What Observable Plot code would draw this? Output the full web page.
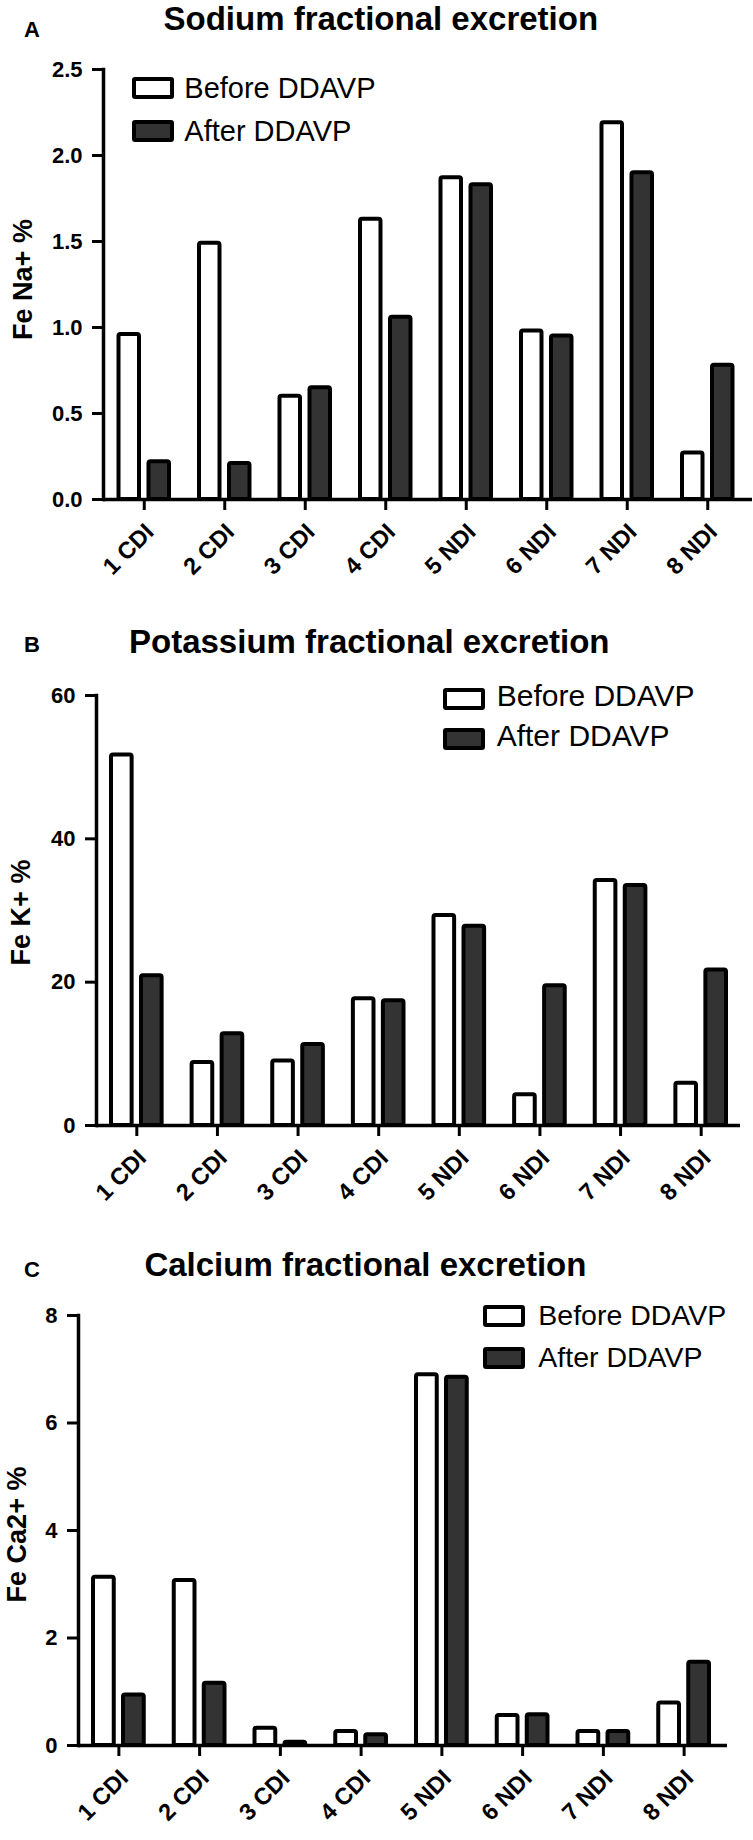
<!DOCTYPE html>
<html>
<head>
<meta charset="utf-8">
<script src="https://cdn.jsdelivr.net/npm/d3@7"></script>
<script src="https://cdn.jsdelivr.net/npm/@observablehq/plot@0.6"></script>
<style>
  body { margin: 0; background: #fff; font-family: "Liberation Sans", Arial, Helvetica, sans-serif; }
  #page { position: relative; width: 753px; height: 1840px; overflow: hidden; background: #fff; }
  .abs { position: absolute; white-space: nowrap; line-height: 1; color: #000; }
  .box { position: absolute; box-sizing: border-box; border: 4px solid #000; border-radius: 3px; }
  svg { position: absolute; left: 0; }
</style>
</head>
<body>
<div id="page"></div>
<script>
// ---------- data ----------
const categories = ["1 CDI", "2 CDI", "3 CDI", "4 CDI", "5 NDI", "6 NDI", "7 NDI", "8 NDI"];
const seriesNames = ["Before DDAVP", "After DDAVP"];

const naBefore = [0.96, 1.49, 0.60, 1.63, 1.87, 0.98, 2.19, 0.27];
const naAfter  = [0.22, 0.21, 0.65, 1.06, 1.83, 0.95, 1.90, 0.78];
const naTicks  = [0, 0.5, 1.0, 1.5, 2.0, 2.5];

const kBefore = [51.7, 8.8, 9.0, 17.7, 29.3, 4.3, 34.2, 5.9];
const kAfter  = [20.9, 12.8, 11.3, 17.4, 27.8, 19.5, 33.5, 21.7];
const kTicks  = [0, 20, 40, 60];

const caBefore = [3.13, 3.07, 0.32, 0.26, 6.90, 0.56, 0.26, 0.79];
const caAfter  = [0.94, 1.16, 0.06, 0.20, 6.85, 0.57, 0.26, 1.55];
const caTicks  = [0, 2, 4, 6, 8];

const titles = ["Sodium fractional excretion", "Potassium fractional excretion", "Calcium fractional excretion"];
const letters = ["A", "B", "C"];
const yLabels = ["Fe Na+ %", "Fe K+ %", "Fe Ca2+ %"];

// ---------- layout ----------
const FONT = "'Liberation Sans', Arial, Helvetica, sans-serif";
const fills = ["#ffffff", "#333333"];
const page = document.getElementById("page");

const panels = [
  {before: naBefore, after: naAfter, ticks: naTicks, fmt: ".1f", top: 0, height: 600,
   ml: 103, mr: 1, xRange: [103.5, 747.5], ylabelDx: -80, ylabelDy: -5,
   titleX: 163.5, titleBase: 30, letterBase: 37.3,
   legendX: 131.7, legendY: 77.3, legendTextX: 184.3, legendBase: 99, legendGap: 42.4, legendFs: 29},
  {before: kBefore, after: kAfter, ticks: kTicks, fmt: "d", top: 625.7, height: 600,
   ml: 96, mr: 13, xRange: [96, 741], ylabelDx: -75.5, ylabelDy: 2,
   titleX: 129, titleBase: 27, letterBase: 27.3,
   legendX: 443.3, legendY: 62, legendTextX: 496.7, legendBase: 81, legendGap: 40, legendFs: 30},
  {before: caBefore, after: caAfter, ticks: caTicks, fmt: "d", top: 1245.7, height: 594,
   ml: 78, mr: 26, xRange: [78, 724], ylabelDx: -61, ylabelDy: 4,
   titleX: 144.4, titleBase: 29.8, letterBase: 31.8,
   legendX: 483.3, legendY: 59.3, legendTextX: 538.3, legendBase: 79.3, legendGap: 42, legendFs: 28.5}
];

function addText(txt, left, baseline, fs, weight) {
  const d = document.createElement("div");
  d.className = "abs";
  d.textContent = txt;
  d.style.left = left + "px";
  d.style.top = (baseline - 0.8465 * fs) + "px";
  d.style.fontSize = fs + "px";
  d.style.fontWeight = weight;
  page.appendChild(d);
}

panels.forEach((p, k) => {
  const rows = categories.map((c, i) => ({cat: c, before: p.before[i], after: p.after[i]}));
  const chart = Plot.plot({
    width: 753,
    height: p.height,
    marginTop: 69,
    marginBottom: p.height - 69 - 430,
    marginLeft: p.ml,
    marginRight: p.mr,
    style: {fontFamily: FONT, fontSize: "22px", fontWeight: "bold", color: "#000", background: "transparent", overflow: "visible"},
    x: {domain: categories, range: p.xRange, padding: 0, round: false},
    y: {domain: [0, p.ticks[p.ticks.length - 1]]},
    marks: [
      Plot.barY(rows, {x: "cat", y: "before", fill: fills[0], stroke: "#000", strokeWidth: 4, insetLeft: 15, insetRight: 45, rx: 2}),
      Plot.barY(rows, {x: "cat", y: "after", fill: fills[1], stroke: "#000", strokeWidth: 4, insetLeft: 45, insetRight: 15, rx: 2}),
      Plot.ruleY([0], {stroke: "#000", strokeWidth: 3.5}),
      Plot.frame({anchor: "left", stroke: "#000", strokeWidth: 3.5}),
      Plot.axisY({ticks: p.ticks, tickFormat: d3.format(p.fmt), tickSize: 11, tickPadding: 10, strokeWidth: 3,
                  fontSize: 22, fontWeight: "bold", label: null}),
      // tick lines only
      Plot.axisX({tickSize: 11, strokeWidth: 3, fill: "none", label: null}),
      // rotated tick labels only
      Plot.axisX({tickSize: 0, tickPadding: 28.6, tickRotate: -45, dx: 5.5,
                  fontSize: 23.5, fontWeight: "bold", label: null}),
      Plot.text([yLabels[k]], {text: d => d, frameAnchor: "left", textAnchor: "middle", rotate: -90,
                  dx: p.ylabelDx, dy: p.ylabelDy, fontSize: 27, fontWeight: "bold", fill: "#000"})
    ]
  });
  chart.style.top = p.top + "px";
  page.appendChild(chart);

  addText(letters[k], 24, p.top + p.letterBase, 22, "bold");
  addText(titles[k], p.titleX, p.top + p.titleBase, 33, "bold");

  seriesNames.forEach((name, j) => {
    const b = document.createElement("div");
    b.className = "box";
    b.style.left = p.legendX + "px";
    b.style.top = (p.top + p.legendY + j * p.legendGap) + "px";
    b.style.width = "42px";
    b.style.height = "22px";
    b.style.background = fills[j];
    page.appendChild(b);
    addText(name, p.legendTextX, p.top + p.legendBase + j * p.legendGap, p.legendFs, "normal");
  });
});
</script>
</body>
</html>
